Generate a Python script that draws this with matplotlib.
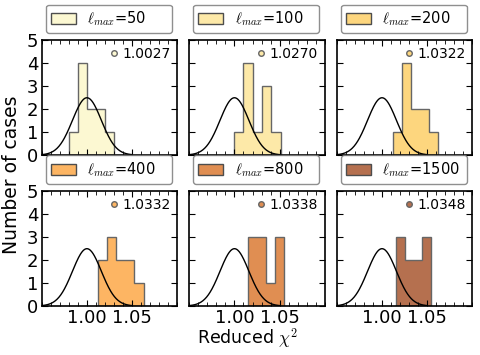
import numpy as np
import matplotlib
matplotlib.use('Agg')
import matplotlib.pyplot as plt
from matplotlib.patches import Patch
from matplotlib.lines import Line2D
from matplotlib.ticker import MultipleLocator

plt.rcParams['mathtext.fontset'] = 'cm'

# ell_max values, mean reduced chi2 and colours
lmax = [50, 100, 200, 400, 800, 1500]
chi2_mean = ['1.0027', '1.0270', '1.0322', '1.0332', '1.0338', '1.0348']
colors = ['#fcf8d2', '#fde9a8', '#fdd67e', '#fdb563', '#e08e52', '#b5704f']

# histogram bin edges and counts
edges = [
    [0.980, 0.990, 1.000, 1.010, 1.020, 1.030],
    [1.000, 1.010, 1.020, 1.030, 1.041, 1.051],
    [1.012, 1.022, 1.032, 1.042, 1.052, 1.062],
    [1.012, 1.022, 1.032, 1.042, 1.052, 1.063],
    [1.0145, 1.0245, 1.0345, 1.0445, 1.0545],
    [1.0152, 1.0252, 1.035, 1.0448, 1.0548],
]
counts = [
    [1, 4, 2, 2, 1],
    [1, 4, 1, 3, 1],
    [1, 4, 2, 2, 1],
    [2, 3, 2, 2, 1],
    [3, 3, 1, 3],
    [3, 2, 2, 3],
]

# expected distribution: gaussian around 1 for N=10 cases, bin width 0.01
n_cases = 10
bin_w = 0.01
mu = 1.0
sigma = 0.016

fig, axes = plt.subplots(2, 3, figsize=(4.8, 3.55), dpi=100)
fig.subplots_adjust(left=0.087, right=0.984, top=0.887, bottom=0.138,
                    wspace=0.089, hspace=0.313)

xg = np.linspace(0.95, 1.05, 200)
yg = n_cases * bin_w / (sigma * np.sqrt(2 * np.pi)) * np.exp(-0.5 * ((xg - mu) / sigma) ** 2)

for i, ax in enumerate(axes.flat):
    e = edges[i]
    ax.hist(e[:-1], bins=e, weights=counts[i], histtype='stepfilled',
            facecolor=colors[i], edgecolor='0.4', linewidth=1.0)
    ax.plot(xg, yg, 'k-', lw=1.0)
    ax.set_xlim(0.95, 1.10)
    ax.set_ylim(0, 5)
    ax.set_xticks([1.00, 1.05])
    ax.xaxis.set_minor_locator(MultipleLocator(0.01))
    ax.set_yticks(range(6))
    ax.tick_params(which='both', direction='in', top=True, right=True, labelsize=13, pad=2.5)
    ax.tick_params(which='major', length=4)
    ax.tick_params(which='minor', length=3)
    for s in ax.spines.values():
        s.set_linewidth(1.2)
    if i < 3:
        ax.set_xticklabels([])
    else:
        ax.set_xticklabels(['1.00', '1.05'])
    if i % 3 != 0:
        ax.set_yticklabels([])

    leg1 = ax.legend(handles=[Patch(facecolor=colors[i], edgecolor='0.3')],
                     labels=[r'$\ell_{max}$=%d' % lmax[i]],
                     loc='lower left', bbox_to_anchor=(0.03, 1.06, 0.93, 0.2),
                     mode='expand', fancybox=True, fontsize=10.5,
                     handlelength=1.7, handleheight=0.8, borderaxespad=0.0,
                     borderpad=0.35)
    leg1.get_frame().set_edgecolor('0.45')
    ax.add_artist(leg1)

    ax.legend(handles=[Line2D([], [], marker='o', ls='', markersize=4,
                              markerfacecolor=colors[i], markeredgecolor='0.4')],
              labels=[chi2_mean[i]], loc='upper right', frameon=False,
              fontsize=10, numpoints=1, handlelength=0.8, handletextpad=0.2,
              borderaxespad=0.1)

fig.text(0.025, 0.507, 'Number of cases', rotation=90, ha='center', va='center', fontsize=13.5)
fig.text(0.515, 0.045, r'Reduced $\chi^2$', ha='center', va='center', fontsize=12.5)

fig.savefig('out.png', dpi=100, facecolor='white')
